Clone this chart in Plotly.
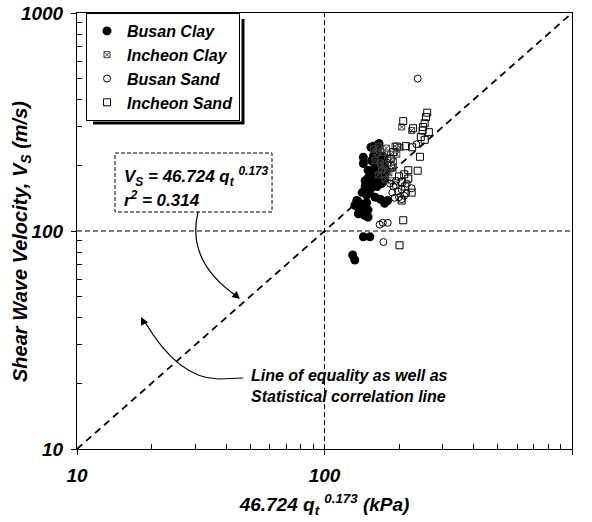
import plotly.graph_objects as go

# ---------------- data ----------------
busan_clay_x = [154, 166, 143.5, 143.5, 160, 163, 158, 165, 170, 155, 160, 168, 172, 175, 162, 157,
                165, 170, 150, 155, 160, 146, 146, 150, 155, 148, 160, 168, 175, 180, 132.6, 135,
                140, 145, 150, 140, 145, 150, 138, 143.5, 152.5, 130, 132.6, 152, 163, 170, 175, 178,
                158, 165, 172, 150, 142, 137, 148, 156, 162, 168]
busan_clay_y = [242, 252, 218, 204, 235, 228, 222, 215, 210, 210, 200, 198, 205, 195, 190, 185,
                182, 178, 175, 170, 168, 170, 160, 162, 158, 146, 143, 140, 134, 138, 131, 138,
                133, 128, 125, 122, 118, 116, 126, 94, 94, 77.6, 73.6, 150, 160, 165, 175, 188,
                245, 240, 220, 190, 150, 120, 135, 165, 175, 185]

incheon_clay_x = [205, 225, 192.6, 202, 160, 170, 189.6, 165, 175, 180, 185, 178, 172, 165, 168,
                  182, 190, 196, 176, 186, 163, 158]
incheon_clay_y = [300, 289, 245, 242, 211, 190, 194, 181, 200, 215, 225, 240, 230, 245, 205,
                  185, 208, 225, 172, 170, 228, 238]

busan_sand_x = [238, 184, 190, 194, 198, 205, 214, 225, 210, 200, 188, 195, 180, 186, 173, 167,
                172, 180, 235, 205, 192, 215]
busan_sand_y = [500, 165, 160, 162, 152, 155, 149, 157, 145, 143, 150, 170, 205, 200, 89, 107,
                109, 109, 250, 140, 142, 165]

incheon_sand_x = [260, 257, 254, 249, 264, 254, 208, 228, 213, 243, 238, 218, 218, 205, 205, 208,
                  201, 226, 196, 210, 200, 225, 212, 245, 250, 185, 190]
incheon_sand_y = [349, 333, 312, 289, 284, 262, 319, 296, 245, 219, 189, 190, 174, 168, 138, 112,
                  86, 242, 244, 182, 178, 150, 160, 270, 300, 215, 230]

line_x = [10, 1000]
line_y = [10, 1000]

tick_vals = [10, 100, 1000]
tick_text = ["10", "100", "1000"]
minor_vals = [20, 30, 40, 50, 60, 70, 80, 90, 200, 300, 400, 500, 600, 700, 800, 900]

# ---------------- layout helpers ----------------
W, H = 592, 522
L, R, T, B = 77, 20, 13, 73
PW, PH = W - L - R, H - T - B


def px(x):
    return (x - L) / PW


def py(y):
    return (H - B - y) / PH


FONT = "Liberation Sans, Arial, sans-serif"
bi = dict(family=FONT, weight="bold", style="italic", color="black")

fig = go.Figure()

# reference lines
fig.add_trace(go.Scatter(x=line_x, y=line_y, mode="lines", showlegend=False, hoverinfo="skip",
                         line=dict(color="black", width=1.8, dash="7px,5px")))
fig.add_trace(go.Scatter(x=[100, 100], y=[10, 1000], mode="lines", showlegend=False, hoverinfo="skip",
                         line=dict(color="black", width=1, dash="5px,3px")))
fig.add_trace(go.Scatter(x=[10, 1000], y=[100, 100], mode="lines", showlegend=False, hoverinfo="skip",
                         line=dict(color="black", width=1, dash="5px,3px")))

# data
fig.add_trace(go.Scatter(x=busan_clay_x, y=busan_clay_y, mode="markers", name="Busan Clay",
                         marker=dict(symbol="circle", size=9, color="black")))
fig.add_trace(go.Scatter(x=incheon_clay_x, y=incheon_clay_y, mode="markers", name="Incheon Clay",
                         marker=dict(symbol="square-x-open", size=6, color="#444",
                                     line=dict(width=1, color="#444"))))
fig.add_trace(go.Scatter(x=busan_sand_x, y=busan_sand_y, mode="markers", name="Busan Sand",
                         marker=dict(symbol="circle-open", size=7, color="black",
                                     line=dict(width=1, color="black"))))
fig.add_trace(go.Scatter(x=incheon_sand_x, y=incheon_sand_y, mode="markers", name="Incheon Sand",
                         marker=dict(symbol="square-open", size=7, color="black",
                                     line=dict(width=1, color="black"))))

axis_common = dict(type="log", range=[1, 3], showgrid=False, zeroline=False, automargin=False,
                   showline=True, linecolor="black", linewidth=1, mirror=True,
                   ticks="outside", ticklen=5, tickcolor="black",
                   tickvals=tick_vals, ticktext=tick_text,
                   tickfont=dict(size=19, **bi),
                   minor=dict(ticks="inside", ticklen=5, tickcolor="black", tickvals=minor_vals))

fig.update_layout(
    width=W, height=H,
    margin=dict(l=L, r=R, t=T, b=B),
    paper_bgcolor="white", plot_bgcolor="white",
    xaxis=dict(**axis_common, ticklabelstandoff=4,
               title=dict(text="46.724 q<sub>t</sub> <sup>0.173</sup> (kPa)",
                          font=dict(size=19, **bi), standoff=12)),
    yaxis=dict(**axis_common, ticklabelstandoff=4),
    legend=dict(x=px(86), y=py(13), xanchor="left", yanchor="top",
                bgcolor="white", bordercolor="black", borderwidth=1,
                font=dict(size=16, **bi), itemwidth=30, tracegroupgap=0),
    showlegend=True,
)

shapes = []
# legend shadow
shapes.append(dict(type="line", xref="paper", yref="paper", x0=px(243), x1=px(243), y0=py(19), y1=py(124),
                   line=dict(color="black", width=3)))
shapes.append(dict(type="line", xref="paper", yref="paper", x0=px(93), x1=px(244), y0=py(123), y1=py(123),
                   line=dict(color="black", width=3)))
# equation box
shapes.append(dict(type="rect", xref="paper", yref="paper", x0=px(115), x1=px(272), y0=py(153), y1=py(212),
                   line=dict(color="black", width=1, dash="4px,2px"), fillcolor="white"))
# curved arrow 1
shapes.append(dict(type="path", xref="paper", yref="paper",
                   path=f"M {px(198)},{py(212)} Q {px(186)},{py(262)} {px(238)},{py(297)}",
                   line=dict(color="black", width=1.2)))
# curved arrow 2
shapes.append(dict(type="path", xref="paper", yref="paper",
                   path=f"M {px(243)},{py(378)} L {px(218)},{py(379)} Q {px(178)},{py(378)} {px(145)},{py(322)}",
                   line=dict(color="black", width=1.2)))
fig.update_layout(shapes=shapes)

annotations = [
    dict(xref="paper", yref="paper", x=px(21), y=py(242), xanchor="center", yanchor="middle",
         text="Shear Wave Velocity, V<sub>S</sub> (m/s)", textangle=-90, showarrow=False,
         font=dict(size=20, **bi)),
    dict(xref="paper", yref="paper", x=px(122), y=py(176), xanchor="left", yanchor="middle",
         text="V<sub>S</sub> = 46.724 q<sub>t</sub> <sup>0.173</sup>", showarrow=False,
         font=dict(size=17, **bi)),
    dict(xref="paper", yref="paper", x=px(122), y=py(199), xanchor="left", yanchor="middle",
         text="r<sup>2</sup> = 0.314", showarrow=False, font=dict(size=17, **bi)),
    dict(xref="paper", yref="paper", x=px(249), y=py(386), xanchor="left", yanchor="middle",
         text="Line of equality as well as<br>Statistical correlation line", align="left",
         showarrow=False, font=dict(size=16, **bi)),
    # arrowheads
    dict(xref="paper", yref="paper", x=px(240), y=py(299), ax=-7, ay=-6, text="", showarrow=True,
         arrowhead=2, arrowsize=1.3, arrowwidth=1.2, arrowcolor="black"),
    dict(xref="paper", yref="paper", x=px(141), y=py(317), ax=4, ay=8, text="", showarrow=True,
         arrowhead=2, arrowsize=1.3, arrowwidth=1.2, arrowcolor="black"),
]
fig.update_layout(annotations=annotations)

fig.write_html("out.html")
